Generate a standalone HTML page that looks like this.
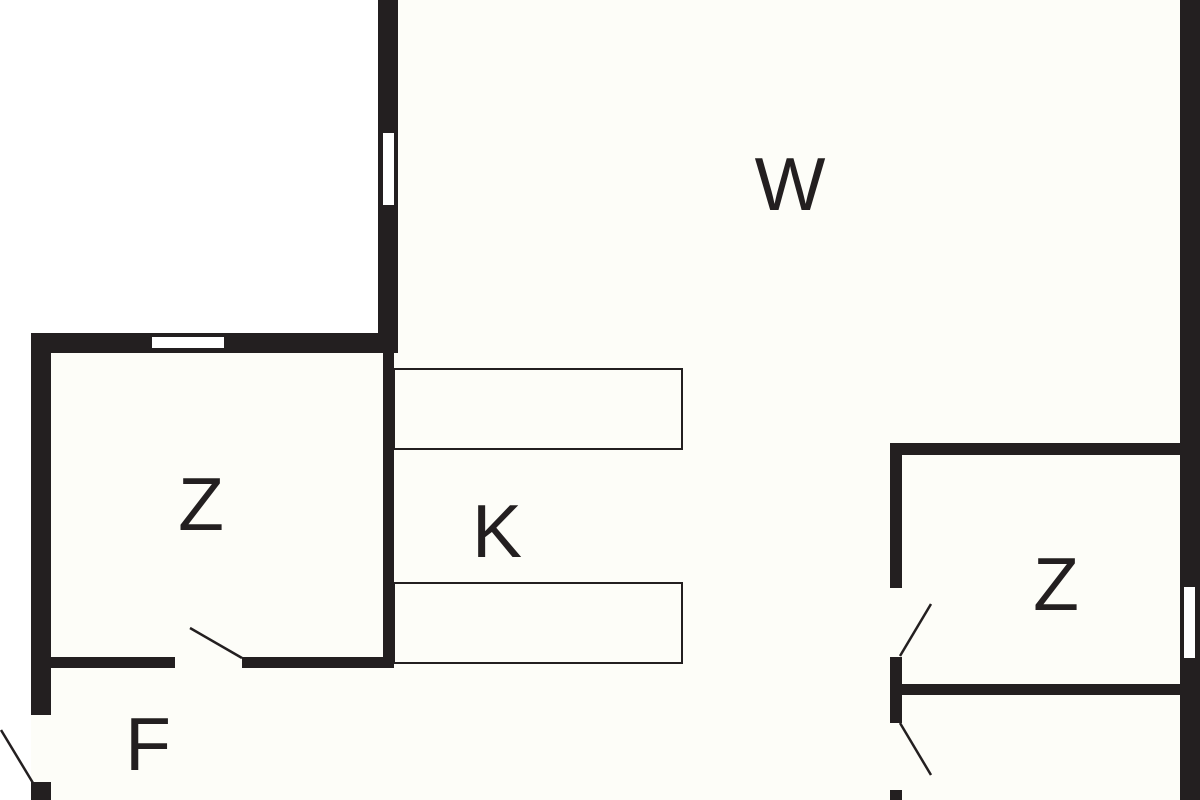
<!DOCTYPE html>
<html><head><style>html,body{margin:0;padding:0;background:#fff;}svg{display:block}</style></head>
<body>
<svg width="1200" height="800" viewBox="0 0 1200 800" xmlns="http://www.w3.org/2000/svg">
<rect width="1200" height="800" fill="#fff"/>
<!-- interior fill -->
<path d="M398 0 H1200 V800 H31 V333 H398 Z" fill="#fdfdf8"/>
<g fill="#231f20">
<!-- top vertical wall -->
<rect x="378" y="0" width="20" height="353"/>
<!-- left room top wall -->
<rect x="31" y="333" width="367" height="20"/>
<!-- left outer wall -->
<rect x="31" y="333" width="20" height="382"/>
<rect x="31" y="782" width="20" height="18"/>
<!-- left room right wall -->
<rect x="383" y="353" width="11" height="315"/>
<!-- left room bottom wall -->
<rect x="51" y="657" width="124" height="11"/>
<rect x="242" y="657" width="152" height="11"/>
<!-- right outer wall -->
<rect x="1180" y="0" width="20" height="800"/>
<!-- right room -->
<rect x="890" y="443" width="290" height="12"/>
<rect x="890" y="443" width="12" height="145"/>
<rect x="890" y="657" width="12" height="66"/>
<rect x="890" y="684" width="290" height="11"/>
<rect x="890" y="790" width="12" height="10"/>
</g>
<!-- windows -->
<g fill="#fff">
<rect x="383" y="133" width="11" height="72"/>
<rect x="152" y="337" width="72" height="11"/>
<rect x="1184" y="587" width="11" height="71"/>
<rect x="175" y="657" width="67" height="11" fill="#fdfdf8"/>
<rect x="31" y="715" width="20" height="67" fill="#fdfdf8"/>
<rect x="890" y="588" width="12" height="69" fill="#fdfdf8"/>
<rect x="890" y="723" width="12" height="67" fill="#fdfdf8"/>
</g>
<!-- counters -->
<g fill="none" stroke="#231f20" stroke-width="2">
<rect x="394" y="369" width="288" height="80"/>
<rect x="394" y="583" width="288" height="80"/>
</g>
<!-- door swings -->
<g stroke="#231f20" stroke-width="2.5" fill="none">
<line x1="190" y1="628" x2="242" y2="658"/>
<line x1="1" y1="730" x2="33" y2="783"/>
<line x1="900" y1="656" x2="931" y2="604"/>
<line x1="900" y1="723" x2="931" y2="775"/>
</g>
<g font-family="Liberation Sans, sans-serif" font-size="75" fill="#231f20" text-anchor="middle">
<text x="790" y="210">W</text>
<text x="201" y="530">Z</text>
<text x="497" y="557">K</text>
<text x="1056" y="610">Z</text>
<text x="148" y="770">F</text>
</g>
</svg>
</body></html>
